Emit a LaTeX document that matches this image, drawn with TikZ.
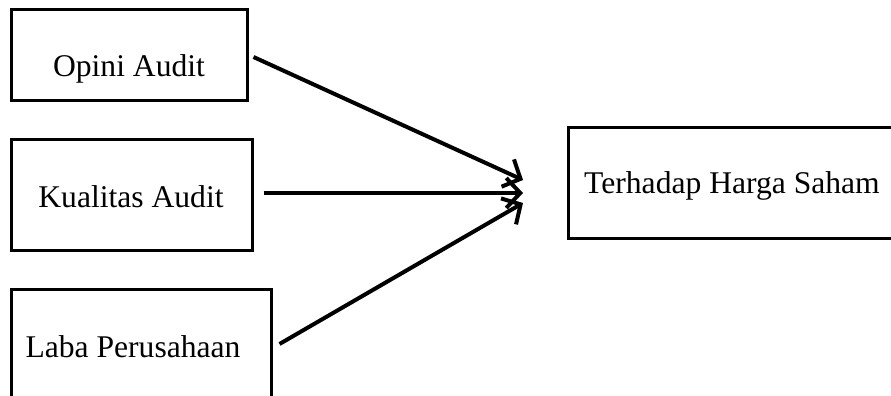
\documentclass[tikz,border=0pt]{standalone}
\usepackage{fontspec}
\setmainfont{Liberation Serif}
\usetikzlibrary{arrows.meta}
\begin{document}
\begin{tikzpicture}[x=1pt,y=-1pt,
  box/.style={draw=black, line width=3pt, rectangle, inner sep=0pt},
  lbl/.style={anchor=base, inner sep=0pt, font=\fontsize{31.6}{36}\selectfont},
  arr/.style={line width=4pt, -{Straight Barb[length=14pt,width=30pt,line width=4pt]}}]
\useasboundingbox (0,0) rectangle (891,396);
\clip (0,0) rectangle (891,396);
\node[box, minimum width=236pt, minimum height=90pt] (b1) at (129,55) {};
\node[box, minimum width=241pt, minimum height=111pt] (b2) at (131.5,194.5) {};
\node[box, minimum width=260pt, minimum height=121pt] (b3) at (141,349.5) {};
\node[box, minimum width=337pt, minimum height=111pt] (b4) at (736.5,182.5) {};
\node[lbl] (t1) at (129,77) {Opini Audit};
\node[lbl] (t2) at (131,207) {Kualitas Audit};
\node[lbl] (t3) at (133,357) {Laba Perusahaan};
\node[lbl] (t4) at (732,193) {Terhadap Harga Saham};
\coordinate (e1) at (523,180);
\coordinate (e2) at (523,193);
\coordinate (e3) at (523,203);
\draw[arr] ([xshift=5pt,yshift=-2pt]b1.east) -- (e1);
\draw[arr] ([xshift=10pt,yshift=1.5pt]b2.east) -- (e2);
\draw[arr] ([xshift=7pt,yshift=5.5pt]b3.east) -- (e3);
\end{tikzpicture}
\end{document}
